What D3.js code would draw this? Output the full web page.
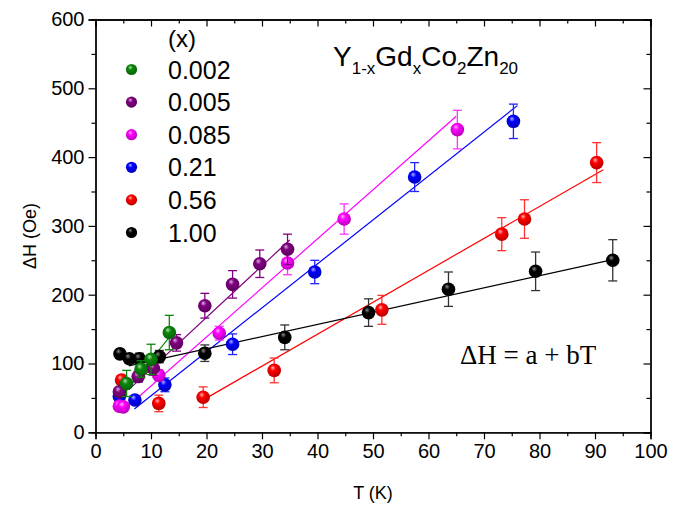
<!DOCTYPE html>
<html><head><meta charset="utf-8">
<script src="https://cdn.jsdelivr.net/npm/d3@7/dist/d3.min.js"></script>
<style>
body{margin:0;background:#fff}
svg text{font-family:Arial,"Liberation Sans",Helvetica,sans-serif;fill:#000}
</style>
</head><body>
<svg id="chart" width="679" height="509"></svg>
<script>
// ---- data ----
const seriesNames  = ["0.002", "0.005", "0.085", "0.21", "0.56", "1.00"];
const seriesColors = ["#0a870a", "#800080", "#ff00ff", "#0000ff", "#ff0000", "#000000"];
const barColors    = ["#0a870a", "#800080", "#ff33ff", "#2222ff", "#ff3333", "#333333"];

const T_0002 = [5.6, 8.2, 10.0, 13.3];
const H_0002 = [71, 92, 106, 145];
const E_0002 = [19, 12, 22, 25];

const T_0005 = [4.3, 7.7, 10.4, 14.6, 19.7, 24.7, 29.6, 34.6];
const H_0005 = [59, 81, 93, 130, 184, 215, 245, 266];
const E_0005 = [6, 8, 10, 12, 18, 20, 20, 22];

const T_0085 = [4.3, 5.0, 11.4, 22.3, 34.6, 44.8, 65.2];
const H_0085 = [38, 37, 83, 144, 246, 310, 440];
const E_0085 = [5, 5, 8, 10, 17, 22, 28];

const T_021 = [4.3, 7.1, 12.5, 24.7, 39.5, 57.5, 75.3];
const H_021 = [52, 47, 69, 128, 233, 371, 452];
const E_021 = [5, 5, 10, 15, 17, 21, 25];

const T_056 = [4.7, 11.4, 19.4, 32.2, 51.6, 73.2, 77.3, 90.3];
const H_056 = [76, 42, 51, 90, 178, 288, 310, 392];
const E_056 = [5, 12, 15, 18, 21, 24, 28, 29];

const T_100 = [4.4, 6.1, 7.9, 11.5, 19.7, 34.1, 49.2, 63.6, 79.3, 93.2];
const H_100 = [114, 107, 107, 110, 115, 138, 174, 208, 234, 250];
const E_100 = [5, 6, 8, 9, 12, 18, 20, 25, 28, 30];

// linear fits ΔH = a + bT, drawn over [tStart, tEnd]
const fitA     = [5, 17, -4, -10.8, -43, 86];
const fitB     = [10, 7.5, 7.13, 6.39, 4.64, 1.77];
const fitStart = [4.5, 6, 5, 7, 19.5, 6];
const fitEnd   = [13.5, 35, 65, 76, 91.5, 94];

const xTicks = [0, 10, 20, 30, 40, 50, 60, 70, 80, 90, 100];
const yTicks = [0, 100, 200, 300, 400, 500, 600];
const xMinor = [5, 15, 25, 35, 45, 55, 65, 75, 85, 95];
const yMinor = [50, 150, 250, 350, 450, 550];

const Ts = [T_0002, T_0005, T_0085, T_021, T_056, T_100];
const Hs = [H_0002, H_0005, H_0085, H_021, H_056, H_100];
const Es = [E_0002, E_0005, E_0085, E_021, E_056, E_100];

// ---- drawing ----
const svg = d3.select("#chart");
const L = 95.5, R = 650.5, TOP = 19.5, B = 432.3;
const x = d3.scaleLinear().domain([0, 100]).range([L, R]);
const y = d3.scaleLinear().domain([0, 600]).range([B, TOP]);

// gradients for 3D balls
const defs = svg.append("defs");
seriesColors.forEach((c, i) => {
  const g = defs.append("radialGradient").attr("id", "ball" + i)
    .attr("cx", "0.45").attr("cy", "0.4").attr("r", "0.6")
    .attr("fx", "0.38").attr("fy", "0.3");
  const base = d3.color(c);
  const hi = d3.interpolateRgb(c, "#ffffff")(i === 5 ? 0.55 : 0.7);
  g.append("stop").attr("offset", "0%").attr("stop-color", hi);
  g.append("stop").attr("offset", "35%").attr("stop-color", c);
  g.append("stop").attr("offset", "100%").attr("stop-color", i === 5 ? "#000" : base.darker(0.9).formatHex());
});

// axes
const fmt = d3.format("d");
svg.append("g").attr("transform", `translate(0,${B})`)
  .call(d3.axisBottom(x).tickValues(xTicks).tickSize(7).tickPadding(5).tickFormat(fmt));
svg.append("g").attr("transform", `translate(0,${B})`)
  .call(d3.axisBottom(x).tickValues(xMinor).tickSize(4).tickFormat(""));
svg.append("g").attr("transform", `translate(${L},0)`)
  .call(d3.axisLeft(y).tickValues(yTicks).tickSize(7).tickPadding(4).tickFormat(fmt));
svg.append("g").attr("transform", `translate(${L},0)`)
  .call(d3.axisLeft(y).tickValues(yMinor).tickSize(4).tickFormat(""));
svg.append("g").attr("transform", `translate(0,${TOP})`)
  .call(d3.axisTop(x).tickValues(xTicks).tickSize(-7).tickFormat(""));
svg.append("g").attr("transform", `translate(0,${TOP})`)
  .call(d3.axisTop(x).tickValues(xMinor).tickSize(-4).tickFormat(""));
svg.append("g").attr("transform", `translate(${R},0)`)
  .call(d3.axisRight(y).tickValues(yTicks).tickSize(-7).tickFormat(""));
svg.append("g").attr("transform", `translate(${R},0)`)
  .call(d3.axisRight(y).tickValues(yMinor).tickSize(-4).tickFormat(""));
svg.selectAll(".domain").attr("stroke", "#000").attr("stroke-width", 1.3);
svg.selectAll(".tick line").attr("stroke", "#000").attr("stroke-width", 1.2);
svg.selectAll(".tick text").style("font-size", "20px").attr("fill", "#000")
  .style("font-family", "Arial, 'Liberation Sans', sans-serif");

// axis titles
svg.append("text").attr("x", (L + R) / 2).attr("y", 499).attr("text-anchor", "middle")
  .style("font-size", "18px").text("T (K)");
svg.append("text").attr("transform", `translate(36,${(TOP + B) / 2 + 10}) rotate(-90)`)
  .attr("text-anchor", "middle").style("font-size", "18px").text("ΔH (Oe)");

// fit lines
const plot = svg.append("g");
seriesNames.forEach((n, i) => {
  plot.append("line")
    .attr("x1", x(fitStart[i])).attr("y1", y(fitA[i] + fitB[i] * fitStart[i]))
    .attr("x2", x(fitEnd[i])).attr("y2", y(fitA[i] + fitB[i] * fitEnd[i]))
    .attr("stroke", seriesColors[i]).attr("stroke-width", 1.2);
});

// points with error bars
const drawOrder = [5, 4, 3, 2, 1, 0];
drawOrder.forEach(i => {
  const data = Ts[i].map((t, k) => ({t, h: Hs[i][k], e: Es[i][k]}));
  const g = plot.append("g");
  const cap = 4.5;
  data.forEach(d => {
    const cx = x(d.t), y1 = y(d.h + d.e), y2 = y(d.h - d.e);
    g.append("line").attr("x1", cx).attr("x2", cx).attr("y1", y1).attr("y2", y2)
      .attr("stroke", barColors[i]).attr("stroke-width", 1.3);
    [y1, y2].forEach(yy => g.append("line").attr("x1", cx - cap).attr("x2", cx + cap)
      .attr("y1", yy).attr("y2", yy).attr("stroke", barColors[i]).attr("stroke-width", 1.3));
  });
  g.selectAll("circle").data(data).join("circle")
    .attr("cx", d => x(d.t)).attr("cy", d => y(d.h)).attr("r", 6.8)
    .attr("fill", `url(#ball${i})`);
});

// legend
const lg = svg.append("g");
lg.append("text").attr("x", 168).attr("y", 47).style("font-size", "24px").text("(x)");
seriesNames.forEach((n, i) => {
  const yy = 69.5 + i * 32.6;
  lg.append("circle").attr("cx", 131.5).attr("cy", yy).attr("r", 5.6).attr("fill", `url(#ball${i})`);
  lg.append("text").attr("x", 168).attr("y", yy + 9).style("font-size", "25px").text(n);
});

// title
const tt = svg.append("text").attr("x", 333).attr("y", 66).style("font-size", "28px");
tt.append("tspan").text("Y");
tt.append("tspan").attr("dy", 8).style("font-size", "17px").text("1-x");
tt.append("tspan").attr("dy", -8).text("Gd");
tt.append("tspan").attr("dy", 8).style("font-size", "17px").text("x");
tt.append("tspan").attr("dy", -8).text("Co");
tt.append("tspan").attr("dy", 8).style("font-size", "17px").text("2");
tt.append("tspan").attr("dy", -8).text("Zn");
tt.append("tspan").attr("dy", 8).style("font-size", "17px").text("20");

// equation
svg.append("text").attr("x", 460).attr("y", 364)
  .style("font-family", "'Liberation Serif','Times New Roman',serif").style("font-size", "27px")
  .text("ΔH = a + bT");
</script>
</body></html>
